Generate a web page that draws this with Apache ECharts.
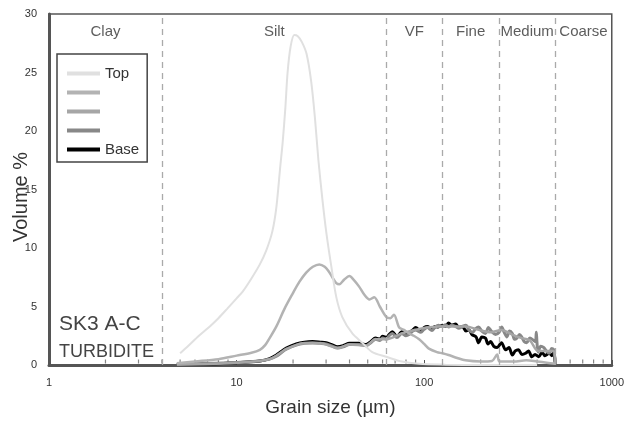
<!DOCTYPE html>
<html>
<head>
<meta charset="utf-8">
<script src="https://cdn.jsdelivr.net/npm/echarts@6/dist/echarts.min.js"></script>
<style>
  html, body { margin: 0; padding: 0; background: #fff; }
  #chart { width: 627px; height: 423px; }
</style>
</head>
<body>
<div id="chart"></div>
<script>
// Grain size distributions, [grain size (µm), volume %]
const topCurve = [
  [5.0,1.0],[5.5,1.6],[6.3,2.5],[7.2,3.3],[8.0,4.0],[8.9,4.8],[10,5.7],[10.8,6.3],[12,7.4],
  [13.3,8.6],[14.4,9.8],[15.5,11.4],[16.3,13.5],[17.1,17],[17.6,19],[18.2,22],[18.7,25],
  [19.4,27.2],[20.3,28.2],[21.2,28.1],[22.3,27.6],[23.6,26.6],[25,24.2],[26.2,21],[27.3,17.5],
  [28.7,14.1],[30.1,11.3],[32,8.4],[34,5.8],[36.6,4.1],[41.4,2.7],[46.8,1.9],[52.9,1.1],
  [62.8,0.7],[73.6,0.35],[94,0.1],[130,0.03],[200,0],[400,0]
];
const upperCurve = [
  [4.8,0.15],[6,0.3],[8,0.5],[10,0.8],[12,1.05],[13.3,1.3],[14.2,1.7],[15,2.3],[16.3,3.3],
  [18,4.8],[19.9,6.1],[21.6,7.1],[23.5,7.9],[25.5,8.4],[27.6,8.6],[29.5,8.4],[31,8.0],
  [32.4,7.5],[34,7.0],[35.3,6.9],[37.5,7.3],[39.9,7.6],[42,7.3],[45,6.7],[48,6.0],[51.1,5.6],
  [54.2,5.8],[58,5.0],[62.8,4.1],[66,4.0],[69,4.3],[73.6,3.2],[78,3.0],[83,2.7],[88,2.5],
  [94,2.2],[100,1.8],[106,1.4],[117,1.1],[125,1.0],[135,0.85],[150,0.6],[166,0.4],[200,0.3],
  [230,0.35],[245,0.9],[252,0.3],[300,0.3],[350,0.4],[400,0.3],[450,0.2],[500,0.1]
];
const middleCurve = [
  [4.8,0.05],[10,0.2],[15,0.5],[18.4,1.35],[23,1.85],[28,1.85],[34.5,1.45],[40,1.75],
  [49,1.65],[55,2.2],[63,2.2],[76,2.7],[90,3.0],[104,3.2],[125,3.3],[147,3.3],[167,3.3],
  [195,3.0],[228,2.8],[259,3.0],[295,2.6],[331,2.3],[366,2.1],[405,1.2],[448,1.2],[490,1.2],[500,0.1]
];
const lowerCurve = [
  [4.8,0.05],[7,0.12],[10,0.22],[13.3,0.35],[15,0.5],[16.3,0.75],[17.3,1.05],[18.4,1.35],
  [20.8,1.7],[23,1.85],[25.4,1.9],[28,1.85],[30,1.8],[32,1.65],[34.5,1.45],[37,1.55],[40,1.75],
  [45,1.75],[49,1.65],[52,1.9],[55,2.2],[58,2.1],[60,2.3],[63,2.2],[65,2.5],[67.6,2.7],
  [71.6,2.35],[76,2.7],[80,2.5],[83,2.6],[87,2.9],[90,3.0],[96,2.8],[100,3.05],[104,3.2],
  [110,2.95],[114,3.2],[119,3.4],[125,3.3],[130,3.45],[135,3.25],[140,3.4],[147,3.3],
  [153,3.15],[160,3.3],[167,3.4],[173,3.0],[181,2.8],[188,3.1],[195,3.25],[203,2.9],[212,2.7],
  [220,3.2],[228,2.9],[240,2.6],[251,2.8],[259,3.25],[267,2.8],[276,2.4],[285,2.9],[295,2.7],
  [303,2.2],[312,2.3],[322,2.6],[331,2.4],[341,2.0],[352,1.9],[366,2.3],[384,2.1],[392,2.0],
  [396,2.8],[399,2.0],[405,1.1],[418,1.6],[433,1.5],[448,1.2],[464,1.0],[478,1.4],[490,1.3],[500,0.1]
];
const baseCurve = [
  [4.8,0.05],[7,0.1],[10,0.2],[13.3,0.35],[15,0.55],[16.3,0.85],[17.3,1.15],[18.4,1.45],
  [20.8,1.8],[23,1.95],[25.4,2.0],[28,1.95],[30,1.9],[32,1.75],[34.5,1.55],[37,1.65],[40,1.85],
  [45,1.85],[49,1.75],[52,2.0],[55,2.3],[58,2.2],[60,2.45],[63,2.35],[65,2.6],[67.6,2.85],
  [71.6,2.45],[76,2.85],[80,2.6],[83,2.75],[87,3.0],[90,3.2],[96,2.9],[100,3.2],[104,3.3],
  [110,3.1],[114,3.3],[119,3.25],[125,3.4],[130,3.3],[135,3.6],[140,3.4],[147,3.5],[153,3.2],
  [160,3.3],[167,2.9],[173,3.0],[180,2.6],[189,2.4],[195,1.9],[203,2.4],[212,2.3],[219,1.8],
  [226,2.0],[235,1.6],[245,1.5],[258,1.9],[272,1.3],[283,1.5],[295,0.85],[306,1.2],[318,1.3],
  [332,0.9],[347,1.0],[360,1.2],[375,0.7],[390,0.9],[408,0.7],[425,1.1],[440,0.8],[464,1.0],
  [480,0.8],[490,1.1],[500,0.1]
];

// Wentworth class boundaries (µm) and class names placed mid-class
const classBoundaries = [4, 63, 125, 250, 500];
const classNames = ['Clay', 'Silt', 'VF', 'Fine', 'Medium', 'Coarse'];
const classCentres = [2, 15.9, 88.7, 177, 354, 707];
const classLabelLevel = 28.5;

// Minor tick positions on the log axis
const minorTicks = [2,3,4,5,6,7,8,9,20,30,40,50,60,70,80,90,200,300,400,500,600,700,800,900];

const seriesNames = ['Top', 'Upper', 'Middle', 'Lower', 'Base'];
const legendText = { Top: 'Top', Upper: '\u00a0', Middle: '\u00a0', Lower: '\u00a0', Base: 'Base' };

const chart = echarts.init(document.getElementById('chart'), null, { renderer: 'canvas' });
const FONT = 'Liberation Sans, Arial, sans-serif';

function curve(name, data, color, width) {
  return {
    name, type: 'line', data, color,
    showSymbol: false, symbol: 'none', smooth: 0.3,
    lineStyle: { color, width }, silent: true, z: 3
  };
}

chart.setOption({
  animation: false,
  backgroundColor: '#fff',
  grid: { left: 49, right: 14, top: 14, bottom: 58, show: true, borderColor: '#555', borderWidth: 1.5, backgroundColor: 'transparent' },
  xAxis: {
    type: 'log', logBase: 10, min: 1, max: 1000,
    name: 'Grain size (µm)', nameLocation: 'middle', nameGap: 33,
    nameTextStyle: { fontFamily: FONT, fontSize: 19, color: '#333' },
    axisLine: { show: true, lineStyle: { color: '#555', width: 3 } },
    axisTick: { show: true, inside: true, length: 5, lineStyle: { color: '#555' } },
    axisLabel: { fontFamily: FONT, fontSize: 11, color: '#333', margin: 12, formatter: v => String(v) },
    splitLine: { show: false }
  },
  yAxis: {
    type: 'value', min: 0, max: 30, interval: 5,
    axisLine: { show: true, lineStyle: { color: '#555', width: 3 } },
    axisTick: { show: false },
    axisLabel: { fontFamily: FONT, fontSize: 11, color: '#333', margin: 12 },
    splitLine: { show: false }
  },
  legend: {
    orient: 'vertical', left: 57, top: 54,
    data: seriesNames,
    icon: 'rect', itemWidth: 33, itemHeight: 4, itemGap: 4,
    padding: [12, 8, 5, 10],
    backgroundColor: '#fff', borderColor: '#444', borderWidth: 1.5, borderRadius: 0,
    formatter: n => legendText[n],
    textStyle: { fontFamily: FONT, fontSize: 15, lineHeight: 15, height: 15, color: '#333' },
    selectedMode: false
  },
  graphic: [
    { type: 'text', x: 21, y: 197, rotation: Math.PI / 2,
      style: { text: 'Volume %', font: '20px ' + FONT, fill: '#333', align: 'center', verticalAlign: 'middle' } },
    { type: 'text', left: 59, top: 314,
      style: { text: 'SK3 A-C', font: '21px ' + FONT, fill: '#444' } },
    { type: 'text', left: 59, top: 343,
      style: { text: 'TURBIDITE', font: '18px ' + FONT, fill: '#444' } }
  ],
  series: [
    {
      name: 'classes', type: 'scatter', silent: true, symbolSize: 0,
      data: classNames.map((n, i) => ({ name: n, value: [classCentres[i], classLabelLevel] })),
      label: { show: true, position: 'inside', formatter: p => p.name, fontFamily: FONT, fontSize: 15, color: '#333' },
      markLine: {
        silent: true, symbol: 'none', label: { show: false },
        lineStyle: { color: '#aaa', width: 1.3, type: [6, 5] },
        data: classBoundaries.map(v => ({ xAxis: v }))
      },
      z: 1
    },
    {
      name: 'ticks', type: 'scatter', silent: true,
      symbol: 'rect', symbolSize: [1.2, 4], symbolOffset: [0, -3.5],
      itemStyle: { color: '#666' },
      data: minorTicks.map(v => [v, 0]), z: 2
    },
    curve('Base', baseCurve, '#000000', 3),
    curve('Lower', lowerCurve, '#888888', 3),
    curve('Middle', middleCurve, '#a6a6a6', 2.5),
    curve('Upper', upperCurve, '#b3b3b3', 2.5),
    curve('Top', topCurve, '#e0e0e0', 2)
  ]
});
</script>
</body>
</html>
